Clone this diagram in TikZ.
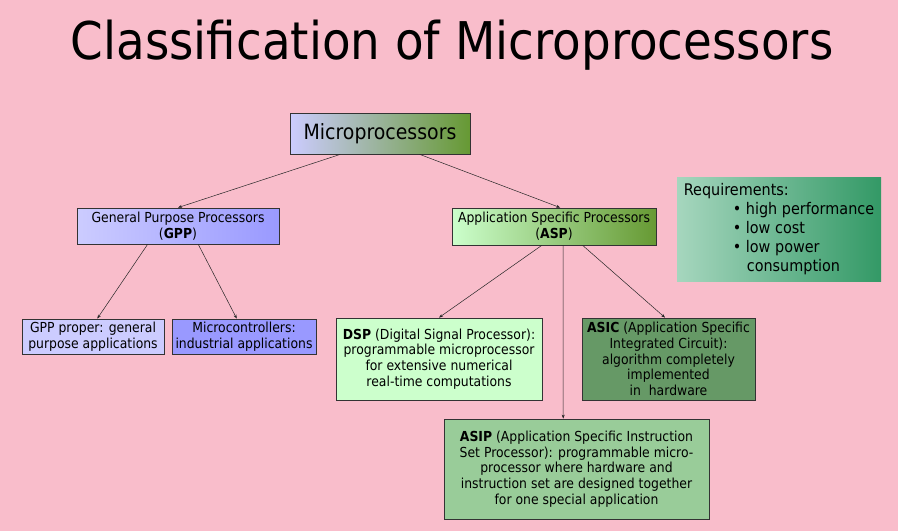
\documentclass[tikz,border=0pt]{standalone}
\usepackage{fontspec}
\setmainfont{DejaVu Sans}[FakeStretch=0.9]
\usetikzlibrary{arrows.meta,calc}

\definecolor{slidepink}{RGB}{249,189,203}
\definecolor{lavender}{RGB}{204,204,255}
\definecolor{periwinkle}{RGB}{153,153,255}
\definecolor{mint}{RGB}{204,255,204}
\definecolor{olive}{RGB}{102,153,51}
\definecolor{sage}{RGB}{153,204,153}
\definecolor{fern}{RGB}{102,153,102}
\definecolor{seafoam}{RGB}{166,214,190}
\definecolor{jade}{RGB}{51,153,102}

\tikzset{
  box/.style={draw=black!80, line width=0.8pt, align=center, inner sep=2pt,
    font=\fontsize{13.8}{15.8}\selectfont},
  link/.style={draw=black!85, line width=0.5pt, -{Stealth[length=4pt,width=3pt]}},
}

\begin{document}
\begin{tikzpicture}[x=1pt,y=-1pt]
		\useasboundingbox (0,0) rectangle (898,531);
		\fill[slidepink] (0,0) rectangle (898,531);

		\draw (452,45) node [font=\fontsize{52}{56}\selectfont] (title) {Classification of Microprocessors};

		\draw (380,133.5) node [box, minimum width=180, minimum height=41, left color=lavender, right color=olive, font=\fontsize{21}{24}\selectfont] (micro) {Microprocessors};
		\draw (178,226) node [box, minimum width=202, minimum height=36, left color=lavender, right color=periwinkle] (gpp) {General Purpose Processors\\(\textbf{GPP})};
		\draw (554,226.5) node [box, minimum width=204, minimum height=37, left color=mint, right color=olive] (asp) {Application Specific Processors\\(\textbf{ASP})};
		\draw (779,229) node [left color=seafoam, right color=jade, minimum width=204, minimum height=104, align=left, font=\fontsize{16}{19}\selectfont] (req) {Requirements:\\\hspace*{49pt}\textbullet\ high performance\\\hspace*{49pt}\textbullet\ low cost\\\hspace*{49pt}\textbullet\ low power\\\hspace*{63pt}consumption};

		\draw (93,336.5) node [box, minimum width=142, minimum height=35, fill=lavender] (gppproper) {GPP proper: general\\purpose applications};
		\draw (244,336.5) node [box, minimum width=144, minimum height=35, fill=periwinkle] (mcu) {Microcontrollers:\\industrial applications};
		\draw (439,359) node [box, minimum width=206, minimum height=82, fill=mint] (dsp) {\textbf{DSP} (Digital Signal Processor):\\programmable microprocessor\\for extensive numerical\\real-time computations};
		\draw (668.5,359) node [box, minimum width=173, minimum height=82, fill=fern] (asic) {\textbf{ASIC} (Application Specific\\Integrated Circuit):\\algorithm completely\\implemented\\in\ \ hardware};
		\draw (576.5,469) node [box, minimum width=265, minimum height=100, fill=sage] (asip) {\textbf{ASIP} (Application Specific Instruction\\Set Processor): programmable micro-\\processor where hardware and\\instruction set are designed together\\for one special application};

		\draw
			($(micro.south west)!0.28!(micro.south east)$) edge [link] (gpp.north)
			($(micro.south west)!0.72!(micro.south east)$) edge [link] ($(asp.north west)!0.53!(asp.north east)$)
			($(gpp.south west)!0.35!(gpp.south east)$) edge [link] ($(gppproper.north west)!0.53!(gppproper.north east)$)
			($(gpp.south west)!0.6!(gpp.south east)$) edge [link] ($(mcu.north west)!0.45!(mcu.north east)$)
			($(asp.south west)!0.44!(asp.south east)$) edge [link] (dsp.north)
			($(asp.south west)!0.545!(asp.south east)$) edge [link] ($(asip.north west)!0.45!(asip.north east)$)
			($(asp.south west)!0.64!(asp.south east)$) edge [link] ($(asic.north west)!0.48!(asic.north east)$)
		;
	\end{tikzpicture}
\end{document}
